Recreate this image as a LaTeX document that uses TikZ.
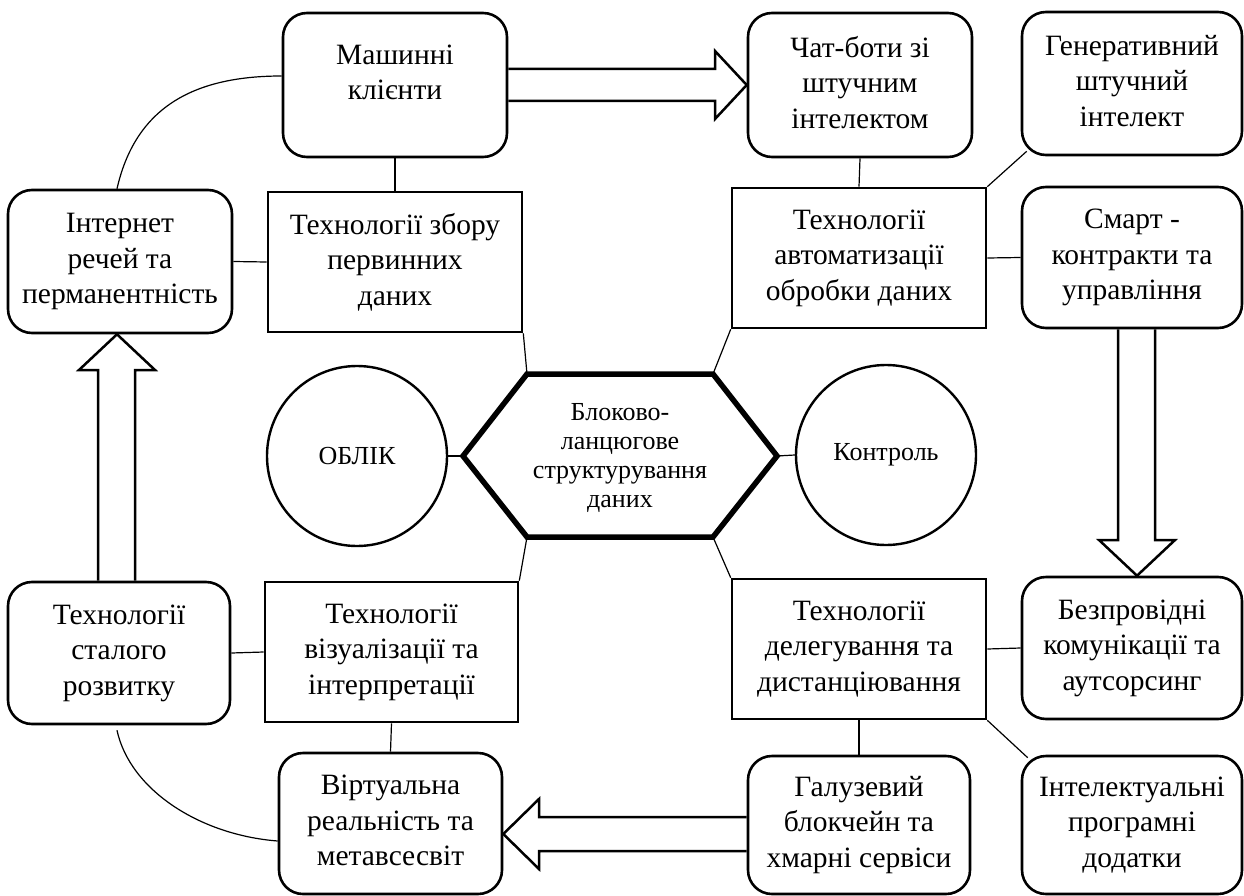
\documentclass[tikz,border=0pt]{standalone}
\usepackage{fontspec}
\setmainfont{Liberation Serif}
\usetikzlibrary{calc}
\newcommand\boxfont{\fontsize{29.5}{35.5}\selectfont}
\newcommand\midfont{\fontsize{26}{29}\selectfont}
\newcommand\topstrut{\rule{0pt}{28pt}}
\newcommand\botstrut{\rule[-6pt]{0pt}{0pt}}
\begin{document}
\begin{tikzpicture}[x=1pt,y=-1pt,
  boxbase/.style={draw, line width=2.6pt, align=center, inner sep=0pt, font=\boxfont,
    execute at begin node=\topstrut, execute at end node=\botstrut},
  rbox/.style={boxbase, rounded corners=24pt},
  sbox/.style={boxbase},
  circ/.style={draw, circle, line width=2.4pt, minimum size=180pt, inner sep=0pt, font=\midfont},
  conn/.style={line width=1.2pt},
  barrow/.style={line width=2.5pt, line join=miter},
  hexline/.style={line width=5.5pt, line join=miter}
]
\useasboundingbox (0,0) rectangle (1244,896);
\fill[white] (0,0) rectangle (1244,896);

% top row
\node[rbox, minimum width=224pt, minimum height=144pt] (mash) at (395,85) {Машинні\\клієнти\rule[-26pt]{0pt}{0pt}};
\node[rbox, minimum width=224pt, minimum height=144pt] (chat) at (860,85) {Чат-боти зі\\штучним\\інтелектом};
\node[rbox, minimum width=220pt, minimum height=143pt] (gen) at (1132,83.5) {Генеративний\\штучний\\інтелект};

% second row
\node[rbox, minimum width=224pt, minimum height=143pt] (iot) at (120,261.5) {Інтернет\\речей та\\перманентність};
\node[sbox, minimum width=254pt, minimum height=140pt] (zbir) at (395,262) {Технології збору\\первинних\\даних};
\node[sbox, minimum width=254pt, minimum height=140pt] (avto) at (859,258) {Технології\\автоматизації\\обробки даних};
\node[rbox, minimum width=220pt, minimum height=141pt] (smart) at (1132,257.5) {Смарт -\\контракти та\\управління};

% middle
\node[circ] (obl) at (357,456) {ОБЛІК};
\node[circ] (kontr) at (886,455) {Контроль};
\coordinate (hL) at (463,456);
\coordinate (hTL) at (527,374);
\coordinate (hTR) at (713,374);
\coordinate (hR) at (777,456);
\coordinate (hBR) at (713,537);
\coordinate (hBL) at (527,537);
\draw[hexline] (hL) -- (hTL) -- (hTR) -- (hR) -- (hBR) -- (hBL) -- cycle;
\node[font=\midfont, align=center, inner sep=0pt] (hex) at (620,458) {Блоково-\\ланцюгове\\структурування\\даних};

% third row
\node[rbox, minimum width=222pt, minimum height=142pt] (stal) at (119,653) {Технології\\сталого\\розвитку};
\node[sbox, minimum width=253pt, minimum height=140pt] (viz) at (391.5,652) {Технології\\візуалізації та\\інтерпретації};
\node[sbox, minimum width=254pt, minimum height=140pt] (deleg) at (859,649) {Технології\\делегування та\\дистанціювання};
\node[rbox, minimum width=220pt, minimum height=142pt] (bezp) at (1132,648) {Безпровідні\\комунікації та\\аутсорсинг};

% bottom row
\node[rbox, minimum width=223pt, minimum height=141pt] (virt) at (390.5,823.5) {Віртуальна\\реальність та\\метавсесвіт};
\node[rbox, minimum width=222pt, minimum height=138pt] (galuz) at (859,825) {Галузевий\\блокчейн та\\хмарні сервіси};
\node[rbox, minimum width=220pt, minimum height=138pt] (intel) at (1132,825) {Інтелектуальні\\програмні\\додатки};

% connectors
\draw[conn] (obl.east) -- (hL);
\draw[conn] (hR) -- (kontr.west);
\draw[conn] (hTL) -- (zbir.south east);
\draw[conn] (hTR) -- (avto.south west);
\draw[conn] (hBL) -- (viz.north east);
\draw[conn] (hBR) -- (deleg.north west);
\draw[conn] (mash.south) -- (zbir.north);
\draw[conn] (iot.east) -- (zbir.west);
\draw[conn] (chat.south) -- (avto.north);
\draw[conn] (avto.north east) -- ($(gen.south west)+(6,-5)$);
\draw[conn] (avto.east) -- (smart.west);
\draw[conn] (stal.east) -- (viz.west);
\draw[conn] (viz.south) -- (virt.north);
\draw[conn] (deleg.east) -- (bezp.west);
\draw[conn] (deleg.south) -- (galuz.north);
\draw[conn] (deleg.south east) -- ($(intel.north west)+(7,3)$);
\draw[conn] ($(iot.north)+(-3,0)$) .. controls (135,110) and (190,76) .. ($(mash.west)+(0,-9)$);
\draw[conn] ($(stal.south)+(-2,5)$) .. controls (130,790) and (200,835) .. ($(virt.west)+(0,17.5)$);

% block arrows
\draw[barrow] ($(mash.east)+(0,-16)$) -- (715,69) -- (715,51) -- (chat.west) -- (715,119) -- (715,101) -- ($(mash.east)+(0,16)$);
\draw[barrow] ($(smart.south)+(-14,0)$) -- (1118,540) -- (1099,540) -- ($(bezp.north)+(5,0)$) -- (1175,540) -- (1155,540) -- ($(smart.south)+(23,0)$);
\draw[barrow] ($(stal.north)+(-21,0)$) -- (98,370) -- (79,370) -- ($(iot.south)+(-3,0)$) -- (155,370) -- (135,370) -- ($(stal.north)+(16,0)$);
\draw[barrow] ($(galuz.west)+(0,-8)$) -- (539,817) -- (539,799) -- ($(virt.east)+(0,10.5)$) -- (539,869) -- (539,851) -- ($(galuz.west)+(0,26)$);
\end{tikzpicture}
\end{document}
